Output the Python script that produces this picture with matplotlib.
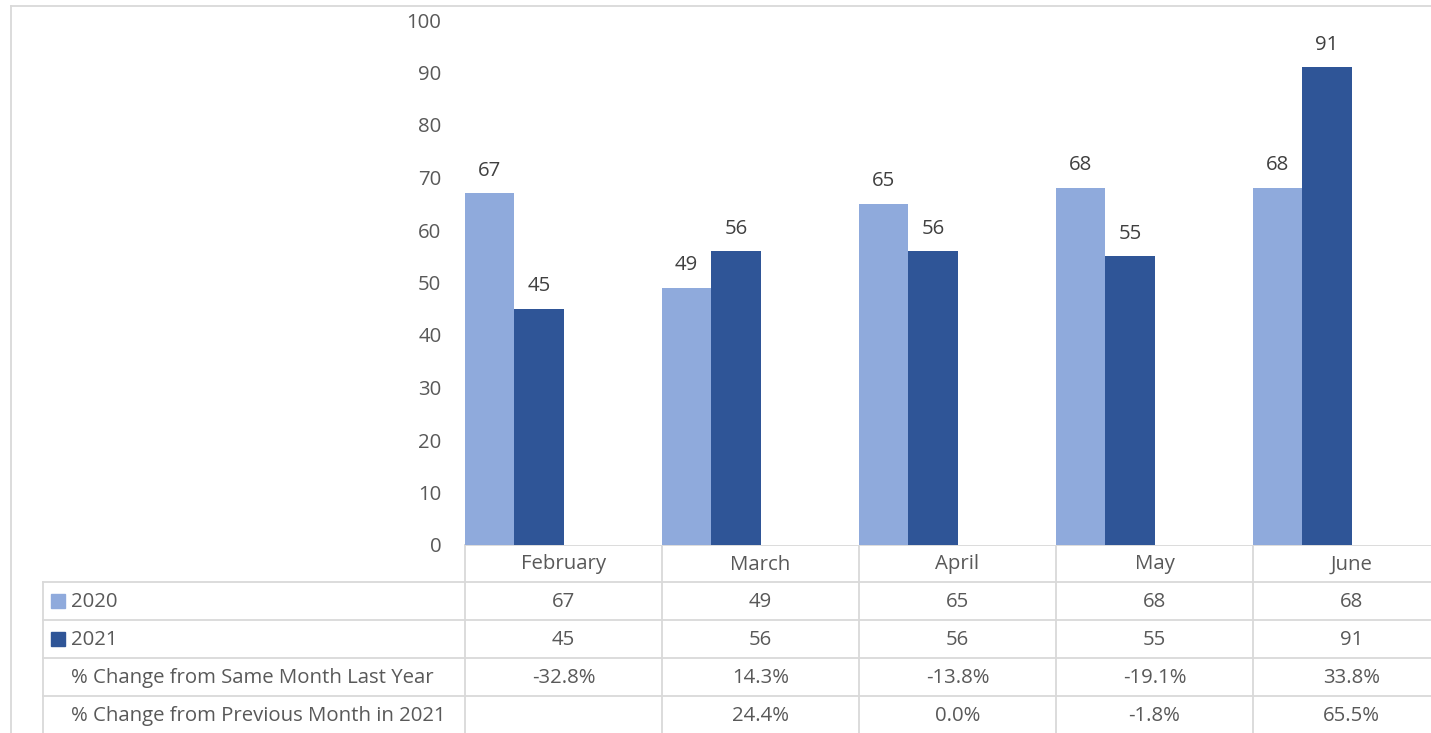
import matplotlib
matplotlib.use("Agg")
import matplotlib.pyplot as plt
from matplotlib.patches import Rectangle

# ── Datos ─────────────────────────────────────────────────────────────────────
months = ["February", "March", "April", "May", "June"]
vals_2020 = [67, 49, 65, 68, 68]
vals_2021 = [45, 56, 56, 55, 91]
pct_same_month = ["-32.8%", "14.3%", "-13.8%", "-19.1%", "33.8%"]
pct_prev_month = ["", "24.4%", "0.0%", "-1.8%", "65.5%"]
row_labels = ["2020", "2021", "% Change from Same Month Last Year",
              "% Change from Previous Month in 2021"]
yticks = [0, 10, 20, 30, 40, 50, 60, 70, 80, 90, 100]

C2020 = "#8FAADC"
C2021 = "#2F5597"
GRID = "#D9D9D9"
TXT = "#595959"
LBL = "#404040"

plt.rcParams["font.family"] = ["Open Sans", "DejaVu Sans"]
FS = 14.7

W, H = 1431, 733
fig = plt.figure(figsize=(W / 100, H / 100), dpi=100)
fig.patch.set_facecolor("white")

# layout en píxeles
x0, y_top, y_zero = 465, 20, 545
cat_w = 197
n = len(months)

# ── Barras ────────────────────────────────────────────────────────────────────
ax = fig.add_axes([x0 / W, (H - y_zero) / H, n * cat_w / W, (y_zero - y_top) / H])
bw = 0.25
xs = range(n)
b1 = ax.bar([i + bw / 2 for i in xs], vals_2020, width=bw, color=C2020)
b2 = ax.bar([i + 1.5 * bw for i in xs], vals_2021, width=bw, color=C2021)
for bars in (b1, b2):
    ax.bar_label(bars, padding=9, fontsize=FS, color=LBL)
ax.set_xlim(0, n)
ax.set_ylim(0, 100)
ax.set_yticks(yticks)
ax.tick_params(axis="y", length=0, pad=17, labelsize=FS, labelcolor=TXT)
ax.set_xticks([])
for s in ax.spines.values():
    s.set_visible(False)

# ── Tabla de datos (coordenadas en píxeles) ──────────────────────────────────
tb = fig.add_axes([0, 0, 1, 1], zorder=-1)
tb.set_xlim(0, W)
tb.set_ylim(H, 0)
tb.axis("off")

lw = 1.3
# marco exterior
tb.plot([11, 11], [6, H], color=GRID, lw=lw)
tb.plot([11, W], [6, 6], color=GRID, lw=lw)

row_y = [545, 582, 620, 658, 696, 734]
x_right = x0 + n * cat_w
tb.plot([x0, x_right], [row_y[0], row_y[0]], color=GRID, lw=lw)
for y in row_y[1:]:
    tb.plot([43, x_right], [y, y], color=GRID, lw=lw)
tb.plot([43, 43], [row_y[1], H], color=GRID, lw=lw)
for i in range(n + 1):
    xe = x0 + i * cat_w
    tb.plot([xe, xe], [row_y[0], H], color=GRID, lw=lw)

# cabecera de meses
for i, m in enumerate(months):
    tb.text(x0 + (i + 0.5) * cat_w, (row_y[0] + row_y[1]) / 2 + 1, m,
            ha="center", va="center", fontsize=FS, color=TXT)

rows = [vals_2020, vals_2021, pct_same_month, pct_prev_month]
for r, (label, vals) in enumerate(zip(row_labels, rows)):
    yc = (row_y[r + 1] + row_y[r + 2]) / 2 + 1
    tb.text(71, yc, label, ha="left", va="center", fontsize=FS, color=TXT)
    for i, v in enumerate(vals):
        tb.text(x0 + (i + 0.5) * cat_w, yc, str(v), ha="center", va="center",
                fontsize=FS, color=TXT)

# claves de leyenda
for r, c in enumerate([C2020, C2021]):
    yc = (row_y[r + 1] + row_y[r + 2]) / 2
    tb.add_patch(Rectangle((51, yc - 7), 14, 14, color=c))

fig.savefig("out.png", dpi=100)
